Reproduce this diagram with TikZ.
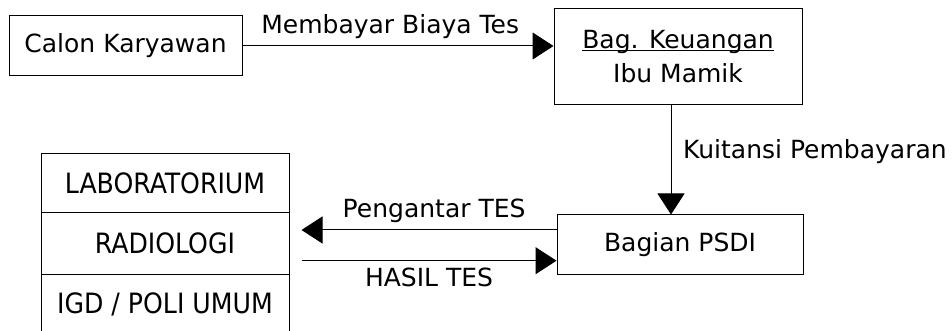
\documentclass[tikz,border=0pt]{standalone}
\usepackage{fontspec}
\setmainfont{DejaVu Sans}
\newfontfamily\unitfont{DejaVu Sans Condensed}
\usetikzlibrary{arrows.meta,calc,positioning}
\newcommand\garisbawah[1]{\setbox0\hbox{#1}\rlap{\rule[-1.2pt]{\wd0}{0.5pt}}\box0}

\begin{document}
\begin{tikzpicture}[x=0.5pt,y=-0.5pt,
    box/.style={draw,line width=0.5pt,rectangle,inner sep=0pt,
        minimum width=124pt,minimum height=30pt,
        font=\fontsize{12.5}{17}\selectfont},
    unitbox/.style={draw,line width=0.5pt,rectangle,inner sep=0pt,
        minimum width=124pt,minimum height=30.5pt,
        font=\unitfont\fontsize{14}{16}\selectfont},
    flow/.style={-{Triangle[length=10.5pt,width=13.5pt]},line width=0.5pt},
    lbl/.style={font=\fontsize{12.5}{15}\selectfont}]
    \useasboundingbox (0,0) rectangle (952,331);
    \node[box,minimum width=116.5pt] (calon) at (125.5,46) {Calon Karyawan};
    \node[box,minimum height=48pt,align=center] (keuangan) at (678,57)
        {\garisbawah{Bag. Keuangan}\\Ibu Mamik};
    \node[box,minimum width=123pt,minimum height=29.5pt] (psdi) at (680,244.5) {Bagian PSDI};
    % unit penunjang
    \node[unitbox,minimum height=29.5pt] (lab) at (165,183.5) {LABORATORIUM};
    \node[unitbox,below=-0.5pt of lab] (radiologi) {RADIOLOGI};
    \node[unitbox,below=-0.5pt of radiologi] (igd) {IGD / POLI UMUM};
    % alur
    \draw[flow] (calon.east) -- (calon.east -| keuangan.west)
        node[lbl,pos=0.475,above] {Membayar Biaya Tes};
    \draw[flow] ([xshift=-3.5pt]keuangan.south) -- ([xshift=-3.5pt]keuangan.south |- psdi.north)
        node[lbl,pos=0.42,right,xshift=2.5pt] {Kuitansi Pembayaran};
    \draw[flow] ([yshift=7.25pt]psdi.west) -- ($(psdi.west -| radiologi.east)+(6pt,7.25pt)$)
        node[lbl,pos=0.48,above] {Pengantar TES};
    \draw[flow] ($(psdi.west -| radiologi.east)+(6pt,-8.1pt)$) -- ([yshift=-8.1pt]psdi.west)
        node[lbl,midway,below] {HASIL TES};
\end{tikzpicture}
\end{document}
